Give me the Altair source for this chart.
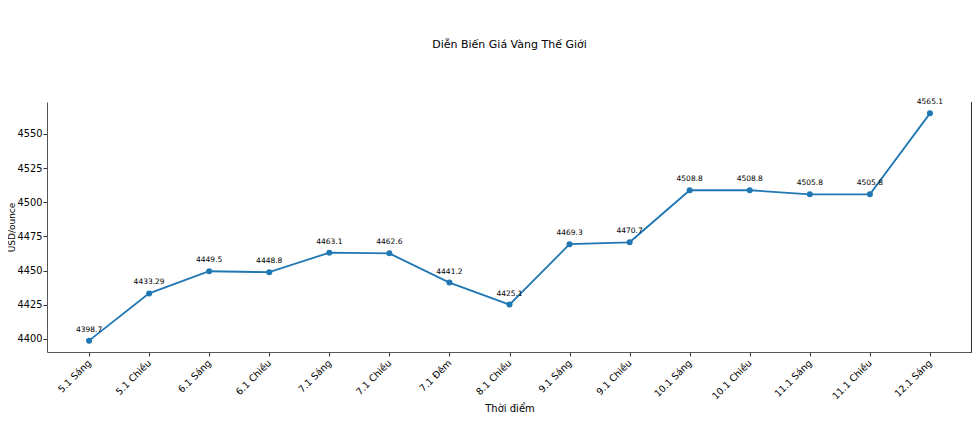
import altair as alt
import pandas as pd

categories = ["5.1 Sáng", "5.1 Chiều", "6.1 Sáng", "6.1 Chiều", "7.1 Sáng", "7.1 Chiều",
              "7.1 Đêm", "8.1 Chiều", "9.1 Sáng", "9.1 Chiều", "10.1 Sáng", "10.1 Chiều",
              "11.1 Sáng", "11.1 Chiều", "12.1 Sáng"]
prices = [4398.7, 4433.29, 4449.5, 4448.8, 4463.1, 4462.6, 4441.2, 4425.1, 4469.3,
          4470.7, 4508.8, 4508.8, 4505.8, 4505.8, 4565.1]
labels = ["4398.7", "4433.29", "4449.5", "4448.8", "4463.1", "4462.6", "4441.2", "4425.1",
          "4469.3", "4470.7", "4508.8", "4508.8", "4505.8", "4505.8", "4565.1"]

df = pd.DataFrame({"t": categories, "p": prices, "lbl": labels})

FONT = "DejaVu Sans"
COLOR = "#1f77b4"

x = alt.X("t:N", sort=categories, title="Thời điểm",
          scale=alt.Scale(type="point", padding=0.7),
          axis=alt.Axis(labelAngle=-45, labelAlign="right", labelBaseline="middle",
                        labelFontSize=9.5, labelPadding=5, tickSize=4, titleFontSize=10,
                        titleFontWeight="normal", titlePadding=3, domainColor="#555",
                        tickColor="#333", labelColor="#000", titleColor="#000", grid=False))
y = alt.Y("p:Q", title="USD/ounce",
          scale=alt.Scale(domain=[4390.4, 4573.4], nice=False, zero=False),
          axis=alt.Axis(values=[4400, 4425, 4450, 4475, 4500, 4525, 4550], format="d",
                        labelFontSize=9.8, tickSize=4, labelPadding=1, titleFontSize=9,
                        titleFontWeight="normal", titleX=-31, titleY=125,
                        domainColor="#555", tickColor="#333", labelColor="#000",
                        titleColor="#000", grid=False))

base = alt.Chart(df).encode(x=x, y=y)
line = base.mark_line(color=COLOR, strokeWidth=1.8)
pts = base.mark_point(color=COLOR, filled=True, opacity=1, size=36)
txt = base.mark_text(dy=-11, fontSize=7.5, font=FONT, color="#000").encode(text="lbl:N")
right = alt.Chart(df).mark_rule(color="#333", strokeWidth=1).encode(
    x=alt.value(925), y=alt.value(0), y2=alt.value(250))

chart = alt.layer(line, pts, txt, right).properties(
    width=925, height=250,
    title=alt.TitleParams("Diễn Biến Giá Vàng Thế Giới", fontSize=11, fontWeight="normal",
                          font=FONT, color="#000", offset=48),
    autosize=alt.AutoSizeParams(type="none"),
    padding={"left": 39, "top": 94, "right": 0, "bottom": 80},
).configure(font=FONT).configure_view(stroke=None)

chart.save("out.html", embed_options={"renderer": "svg", "actions": False})
